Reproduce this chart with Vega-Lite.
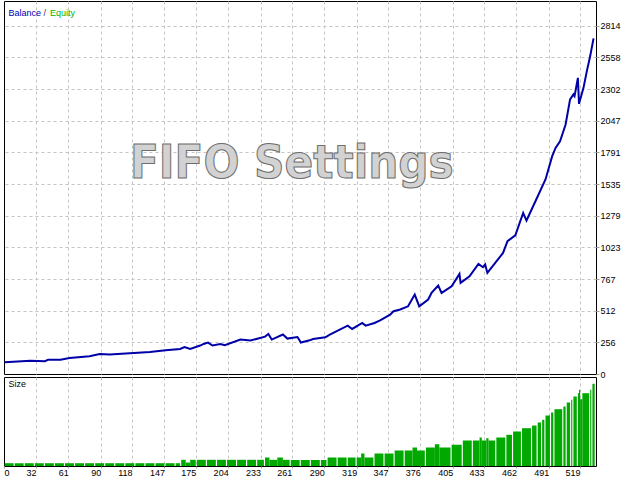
{
  "$schema": "https://vega.github.io/schema/vega-lite/v6.json",
  "padding": {"left": 0, "top": 0, "right": 0, "bottom": 0},
  "background": "white",
  "spacing": 3,
  "bounds": "flush",
  "datasets": {
    "balance": [
      {"trade": 4, "balance": 95}, {"trade": 27, "balance": 108}, {"trade": 40, "balance": 103}, {"trade": 43, "balance": 116},
      {"trade": 54, "balance": 116}, {"trade": 62, "balance": 129}, {"trade": 80, "balance": 143}, {"trade": 89, "balance": 162},
      {"trade": 98, "balance": 157}, {"trade": 116, "balance": 167}, {"trade": 134, "balance": 178}, {"trade": 148, "balance": 192},
      {"trade": 161, "balance": 202}, {"trade": 165, "balance": 218}, {"trade": 170, "balance": 202}, {"trade": 179, "balance": 230},
      {"trade": 182, "balance": 243}, {"trade": 186, "balance": 254}, {"trade": 190, "balance": 230}, {"trade": 197, "balance": 243},
      {"trade": 201, "balance": 232}, {"trade": 215, "balance": 278}, {"trade": 224, "balance": 270}, {"trade": 237, "balance": 302},
      {"trade": 240, "balance": 323}, {"trade": 243, "balance": 278}, {"trade": 253, "balance": 319}, {"trade": 257, "balance": 286},
      {"trade": 266, "balance": 299}, {"trade": 268, "balance": 270}, {"trade": 269, "balance": 254}, {"trade": 277, "balance": 272},
      {"trade": 280, "balance": 283}, {"trade": 291, "balance": 297}, {"trade": 295, "balance": 319}, {"trade": 311, "balance": 391},
      {"trade": 315, "balance": 364}, {"trade": 324, "balance": 412}, {"trade": 327, "balance": 391}, {"trade": 335, "balance": 412},
      {"trade": 340, "balance": 434}, {"trade": 349, "balance": 480}, {"trade": 352, "balance": 507}, {"trade": 358, "balance": 521},
      {"trade": 365, "balance": 547}, {"trade": 371, "balance": 642}, {"trade": 375, "balance": 547}, {"trade": 383, "balance": 602},
      {"trade": 386, "balance": 655}, {"trade": 392, "balance": 715}, {"trade": 395, "balance": 655}, {"trade": 404, "balance": 709},
      {"trade": 411, "balance": 809}, {"trade": 412, "balance": 736}, {"trade": 420, "balance": 790}, {"trade": 428, "balance": 889},
      {"trade": 432, "balance": 863}, {"trade": 434, "balance": 885}, {"trade": 436, "balance": 817}, {"trade": 443, "balance": 897},
      {"trade": 450, "balance": 978}, {"trade": 454, "balance": 1073}, {"trade": 461, "balance": 1121}, {"trade": 468, "balance": 1302},
      {"trade": 471, "balance": 1240}, {"trade": 479, "balance": 1396}, {"trade": 488, "balance": 1572}, {"trade": 494, "balance": 1760},
      {"trade": 497, "balance": 1827}, {"trade": 501, "balance": 1881}, {"trade": 506, "balance": 2016}, {"trade": 510, "balance": 2219},
      {"trade": 513, "balance": 2259}, {"trade": 514, "balance": 2245}, {"trade": 517, "balance": 2393}, {"trade": 518, "balance": 2183},
      {"trade": 522, "balance": 2312}, {"trade": 525, "balance": 2447}, {"trade": 528, "balance": 2569}, {"trade": 531, "balance": 2712}
    ],
    "size": [
      {"from": 4, "to": 12, "size": 2.8}, {"from": 13, "to": 21, "size": 2.8}, {"from": 22, "to": 30, "size": 2.8},
      {"from": 31, "to": 39, "size": 2.8}, {"from": 40, "to": 48, "size": 2.8}, {"from": 49, "to": 57, "size": 2.8},
      {"from": 58, "to": 66, "size": 2.8}, {"from": 67, "to": 75, "size": 2.8}, {"from": 76, "to": 84, "size": 2.8},
      {"from": 85, "to": 93, "size": 2.8}, {"from": 94, "to": 102, "size": 2.8}, {"from": 103, "to": 111, "size": 2.8},
      {"from": 112, "to": 120, "size": 2.8}, {"from": 121, "to": 129, "size": 2.8}, {"from": 130, "to": 138, "size": 2.8},
      {"from": 139, "to": 147, "size": 2.8}, {"from": 148, "to": 156, "size": 2.8}, {"from": 157, "to": 161, "size": 2.8},
      {"from": 162, "to": 166, "size": 6.2}, {"from": 166, "to": 170, "size": 3.5}, {"from": 170, "to": 175, "size": 6.2},
      {"from": 176, "to": 184, "size": 6.2}, {"from": 185, "to": 193, "size": 6.2}, {"from": 194, "to": 202, "size": 6.2},
      {"from": 203, "to": 211, "size": 6.2}, {"from": 212, "to": 220, "size": 6.2}, {"from": 221, "to": 229, "size": 6.2},
      {"from": 230, "to": 236, "size": 6.2}, {"from": 237, "to": 241, "size": 8.5}, {"from": 241, "to": 248, "size": 6.2},
      {"from": 248, "to": 253, "size": 8.5}, {"from": 253, "to": 259, "size": 6.2}, {"from": 260, "to": 268, "size": 6},
      {"from": 269, "to": 277, "size": 6}, {"from": 278, "to": 286, "size": 6}, {"from": 287, "to": 292, "size": 6},
      {"from": 293, "to": 301, "size": 8.5}, {"from": 302, "to": 310, "size": 8.5}, {"from": 311, "to": 318, "size": 8.5},
      {"from": 319, "to": 323, "size": 8.5}, {"from": 323, "to": 326, "size": 12.5}, {"from": 326, "to": 334, "size": 8.5},
      {"from": 335, "to": 343, "size": 12.5}, {"from": 344, "to": 352, "size": 12.5}, {"from": 353, "to": 361, "size": 15.5},
      {"from": 362, "to": 369, "size": 15.5}, {"from": 369, "to": 373, "size": 18.5}, {"from": 373, "to": 380, "size": 15.5},
      {"from": 381, "to": 389, "size": 18.5}, {"from": 389, "to": 393, "size": 21.8}, {"from": 393, "to": 403, "size": 18.5},
      {"from": 404, "to": 413, "size": 21.2}, {"from": 414, "to": 422, "size": 25.5}, {"from": 423, "to": 429, "size": 25.5},
      {"from": 429, "to": 431, "size": 28.5}, {"from": 431, "to": 435, "size": 25.5}, {"from": 435, "to": 437, "size": 27.8},
      {"from": 437, "to": 443, "size": 25.5}, {"from": 444, "to": 452, "size": 28.5}, {"from": 453, "to": 458, "size": 31.2},
      {"from": 459, "to": 466, "size": 34.5}, {"from": 467, "to": 475, "size": 37.8}, {"from": 476, "to": 480, "size": 40.5},
      {"from": 481, "to": 484, "size": 43.5}, {"from": 485, "to": 487, "size": 46.2}, {"from": 488, "to": 492, "size": 50.5},
      {"from": 493, "to": 495, "size": 53.5}, {"from": 496, "to": 503, "size": 56.8}, {"from": 504, "to": 506, "size": 59.5},
      {"from": 507, "to": 510, "size": 63.5}, {"from": 511, "to": 512, "size": 66.2}, {"from": 513, "to": 516, "size": 69.5},
      {"from": 517, "to": 518, "size": 72.8}, {"from": 518, "to": 519, "size": 76.2}, {"from": 519, "to": 521, "size": 66.8},
      {"from": 521, "to": 527, "size": 72.8}, {"from": 528, "to": 529, "size": 76.2}, {"from": 530, "to": 532, "size": 82.2}
    ]
  },
  "vconcat": [
    {
      "width": 592,
      "height": 373,
      "layer": [
        {
          "data": {"name": "balance"},
          "mark": {"type": "line", "color": "#0000A8", "strokeWidth": 2},
          "encoding": {
            "x": {
              "field": "trade", "type": "quantitative",
              "scale": {"domain": [3.4, 533.2], "nice": false, "zero": false},
              "axis": {"title": null, "values": [32, 61, 90, 118, 147, 175, 204, 233, 261, 290, 319, 347, 376, 405, 433, 462, 491, 519], "tickCount": 40, "labels": false, "ticks": false, "domain": false, "grid": true, "minExtent": 0, "maxExtent": 0, "offset": 0}
            },
            "y": {
              "field": "balance", "type": "quantitative",
              "scale": {"domain": [0, 3014], "nice": false, "zero": true},
              "axis": {
                "title": null, "orient": "right",
                "values": [0, 255.82, 511.64, 767.45, 1023.27, 1279.09, 1534.91, 1790.73, 2046.55, 2302.36, 2558.18, 2814],
                "tickCount": 40,
                "format": "d", "grid": true, "domain": false, "tickSize": 3, "labelPadding": 1,
                "labelOverlap": false, "labelFlush": false, "labelBound": false,
                "gridColor": {"condition": {"test": "datum.value < 1", "value": "transparent"}, "value": "#c4c4c4"}
              }
            }
          }
        },
        {
          "data": {"values": [{}]},
          "mark": {"type": "text", "text": "FIFO Settings", "font": "DejaVu Sans Condensed", "fontSize": 47, "fontWeight": "bold", "fill": "#d2d2d2", "stroke": "#6e6e6e", "strokeWidth": 1, "align": "center", "baseline": "alphabetic"},
          "encoding": {
            "x": {"datum": 261, "type": "quantitative", "scale": {"domain": [3.4, 533.2], "nice": false, "zero": false}},
            "y": {"datum": 1580, "type": "quantitative", "scale": {"domain": [0, 3014], "nice": false, "zero": true}}
          }
        },
        {
          "data": {"values": [{}]},
          "mark": {"type": "text", "text": "Balance", "font": "Liberation Sans", "fontSize": 9, "color": "#0000B4", "align": "left", "baseline": "middle"},
          "encoding": {
            "x": {"datum": 7.5, "type": "quantitative"},
            "y": {"datum": 2916, "type": "quantitative"}
          }
        },
        {
          "data": {"values": [{}]},
          "mark": {"type": "text", "text": "/", "font": "Liberation Sans", "fontSize": 9, "color": "#303090", "align": "left", "baseline": "middle"},
          "encoding": {
            "x": {"datum": 38.8, "type": "quantitative"},
            "y": {"datum": 2916, "type": "quantitative"}
          }
        },
        {
          "data": {"values": [{}]},
          "mark": {"type": "text", "text": "Equity", "font": "Liberation Sans", "fontSize": 9, "color": "#00B400", "align": "left", "baseline": "middle"},
          "encoding": {
            "x": {"datum": 44.5, "type": "quantitative"},
            "y": {"datum": 2916, "type": "quantitative"}
          }
        }
      ]
    },
    {
      "width": 592,
      "height": 89,
      "layer": [
        {
          "data": {"name": "size"},
          "mark": {"type": "rect", "color": "#00A800"},
          "encoding": {
            "x": {
              "field": "from", "type": "quantitative",
              "scale": {"domain": [3.4, 533.2], "nice": false, "zero": false},
              "axis": {
                "title": null,
                "values": [3.4, 32, 61, 90, 118, 147, 175, 204, 233, 261, 290, 319, 347, 376, 405, 433, 462, 491, 519],
                "tickCount": 40,
                "labelExpr": "datum.value < 10 ? '0' : datum.label",
                "labelAlign": {"condition": {"test": "datum.value < 10", "value": "left"}, "value": "right"},
                "labelFlush": false, "labelOverlap": false, "labelBound": false,
                "gridColor": {"condition": {"test": "datum.value < 10", "value": "transparent"}, "value": "#c4c4c4"},
                "grid": true, "domain": false, "ticks": true, "tickSize": 2, "labelPadding": 0
              }
            },
            "x2": {"field": "to"},
            "y": {"field": "size", "type": "quantitative", "scale": {"domain": [0, 89], "nice": false}, "axis": null},
            "y2": {"datum": 0}
          }
        },
        {
          "data": {"values": [{}]},
          "mark": {"type": "text", "text": "Size", "font": "Liberation Sans", "fontSize": 9, "color": "#000000", "align": "left", "baseline": "middle"},
          "encoding": {
            "x": {"datum": 7.5, "type": "quantitative"},
            "y": {"datum": 82, "type": "quantitative"}
          }
        }
      ]
    }
  ],
  "config": {
    "view": {"stroke": "#000000", "strokeWidth": 1},
    "axis": {
      "gridColor": "#c4c4c4", "gridDash": [3, 3], "gridWidth": 1,
      "labelFont": "Liberation Sans", "labelFontSize": 9, "labelColor": "#000000",
      "tickColor": "#a0a0a0"
    }
  }
}
